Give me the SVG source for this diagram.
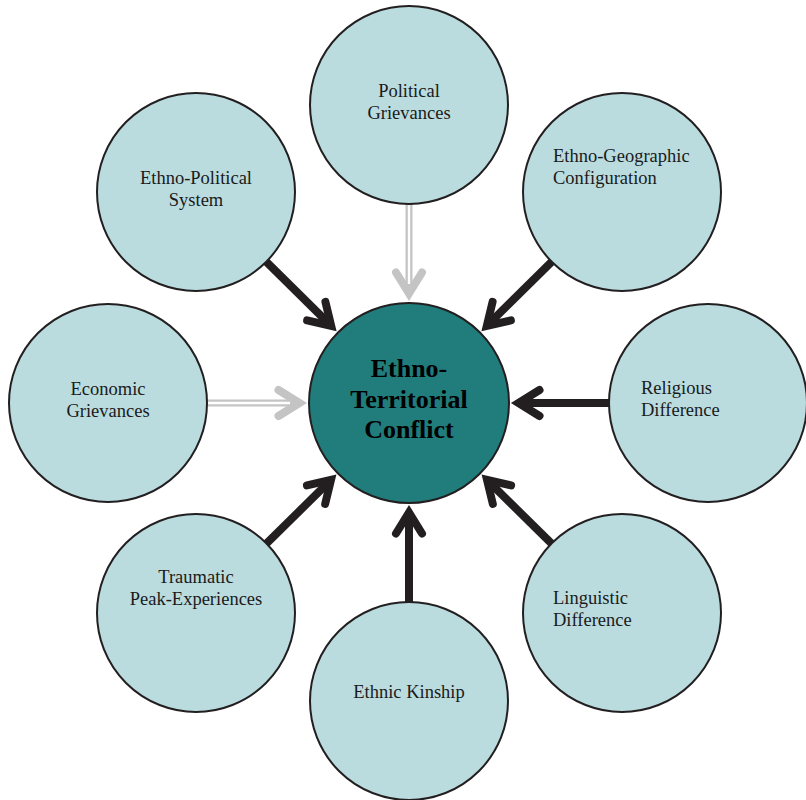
<svg xmlns="http://www.w3.org/2000/svg" width="806" height="800" viewBox="0 0 806 800">
  <style>
    .outer { fill: #badcdf; stroke: #231f20; stroke-width: 2; }
    .core { fill: #207d7c; stroke: #231f20; stroke-width: 2; }
    .lbl { font-family: "Liberation Serif", "Times New Roman", serif; font-size: 18.5px; fill: #1a1a1a; }
    .mid { text-anchor: middle; }
    .title { font-family: "Liberation Serif", "Times New Roman", serif; font-size: 26px; font-weight: bold; fill: #000; text-anchor: middle; }
    .shaft-dark { stroke: #231f20; stroke-width: 8; fill: none; }
    .shaft-grey { stroke: #c4c4c4; stroke-width: 7; fill: none; }
    .shaft-core { stroke: #ffffff; stroke-width: 2.4; fill: none; }
  </style>
  <defs>
    <marker id="headDark" markerUnits="userSpaceOnUse" viewBox="-30 -22 44 44" markerWidth="44" markerHeight="44" refX="0" refY="0" orient="auto" overflow="visible">
      <path d="M-21,-13 L0,0 L-21,13" fill="none" stroke="#231f20" stroke-width="8" stroke-linecap="round" stroke-linejoin="miter"/>
    </marker>
    <marker id="headGrey" markerUnits="userSpaceOnUse" viewBox="-30 -22 44 44" markerWidth="44" markerHeight="44" refX="0" refY="0" orient="auto" overflow="visible">
      <path d="M-21,-13 L0,0 L-21,13" fill="none" stroke="#c4c4c4" stroke-width="8" stroke-linecap="round" stroke-linejoin="miter"/>
    </marker>
  </defs>

  <rect width="806" height="800" fill="#ffffff"/>

  <!-- connectors: every factor points into the central circle -->
  <g id="connectors">
    <!-- hollow grey arrows -->
    <line class="shaft-grey" x1="409" y1="200" x2="409" y2="293.5" marker-end="url(#headGrey)"/>
    <line class="shaft-core" x1="409" y1="200" x2="409" y2="284"/>
    <line class="shaft-grey" x1="203" y1="403" x2="299.5" y2="403" marker-end="url(#headGrey)"/>
    <line class="shaft-core" x1="203" y1="403" x2="290" y2="403"/>
    <!-- solid dark arrows -->
    <line class="shaft-dark" x1="264.9" y1="260.3" x2="331.2" y2="325.9" marker-end="url(#headDark)"/>
    <line class="shaft-dark" x1="553.1" y1="260.3" x2="486.8" y2="325.9" marker-end="url(#headDark)"/>
    <line class="shaft-dark" x1="612" y1="403" x2="518.5" y2="403" marker-end="url(#headDark)"/>
    <line class="shaft-dark" x1="552.9" y1="544.9" x2="487" y2="479.9" marker-end="url(#headDark)"/>
    <line class="shaft-dark" x1="409" y1="605" x2="409" y2="512.5" marker-end="url(#headDark)"/>
    <line class="shaft-dark" x1="265.1" y1="544.9" x2="331" y2="479.9" marker-end="url(#headDark)"/>
  </g>

  <g id="ethno-territorial-conflict">
    <circle class="core" cx="409" cy="403" r="100"/>
    <text class="title" x="409" y="377">Ethno-</text>
    <text class="title" x="409" y="408">Territorial</text>
    <text class="title" x="409" y="438">Conflict</text>
  </g>

  <g id="political-grievances">
    <circle class="outer" cx="409" cy="105" r="99"/>
    <text class="lbl mid" x="409" y="97">Political</text>
    <text class="lbl mid" x="409" y="119">Grievances</text>
  </g>

  <g id="ethno-geographic-configuration">
    <circle class="outer" cx="622" cy="192" r="99"/>
    <text class="lbl" x="553" y="162">Ethno-Geographic</text>
    <text class="lbl" x="553" y="184">Configuration</text>
  </g>

  <g id="religious-difference">
    <circle class="outer" cx="708" cy="403" r="99"/>
    <text class="lbl" x="641" y="394">Religious</text>
    <text class="lbl" x="641" y="416">Difference</text>
  </g>

  <g id="linguistic-difference">
    <circle class="outer" cx="622" cy="613" r="99"/>
    <text class="lbl" x="553" y="604">Linguistic</text>
    <text class="lbl" x="553" y="626">Difference</text>
  </g>

  <g id="ethnic-kinship">
    <circle class="outer" cx="409" cy="701" r="99"/>
    <text class="lbl mid" x="409" y="698">Ethnic Kinship</text>
  </g>

  <g id="traumatic-peak-experiences">
    <circle class="outer" cx="196" cy="613" r="99"/>
    <text class="lbl mid" x="196" y="583">Traumatic</text>
    <text class="lbl mid" x="196" y="605">Peak-Experiences</text>
  </g>

  <g id="economic-grievances">
    <circle class="outer" cx="108" cy="403" r="99"/>
    <text class="lbl mid" x="108" y="395">Economic</text>
    <text class="lbl mid" x="108" y="417">Grievances</text>
  </g>

  <g id="ethno-political-system">
    <circle class="outer" cx="196" cy="192" r="99"/>
    <text class="lbl mid" x="196" y="184">Ethno-Political</text>
    <text class="lbl mid" x="196" y="206">System</text>
  </g>
</svg>
